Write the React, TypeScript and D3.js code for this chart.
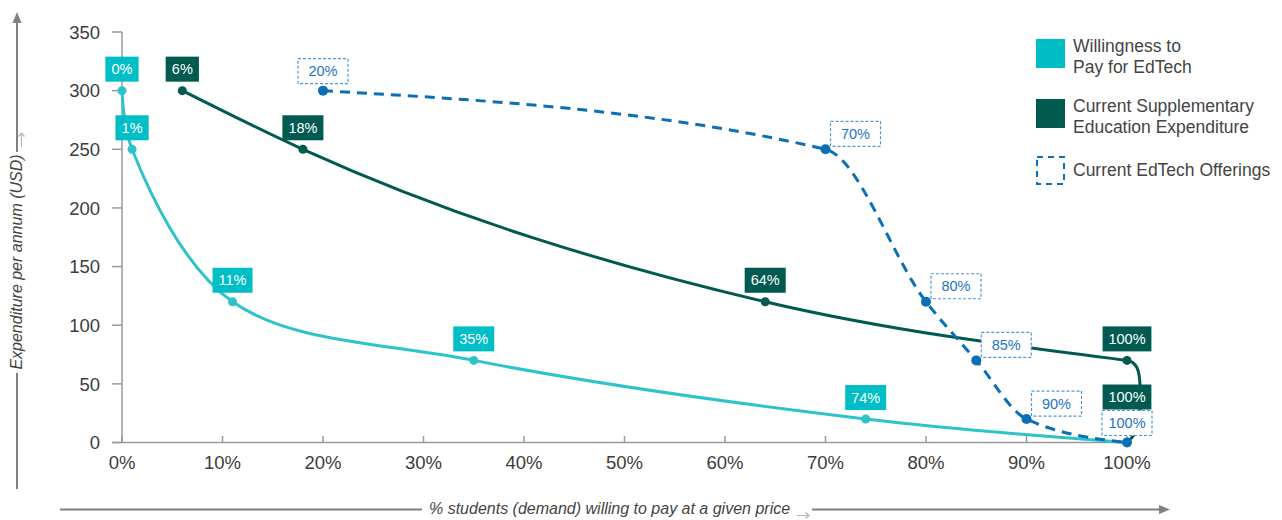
import React, { useEffect } from "react";
import * as d3 from "d3";

// ---- Data ----
const xTicks = [0, 10, 20, 30, 40, 50, 60, 70, 80, 90, 100];
const yTicks = [0, 50, 100, 150, 200, 250, 300, 350];

const wtpX = [0, 1, 11, 35, 74, 100];
const wtpY = [300, 250, 120, 70, 20, 0];
const wtpLabels = ["0%", "1%", "11%", "35%", "74%", ""];

const supX = [6, 18, 64, 100, 100];
const supY = [300, 250, 120, 70, 0];
const supLabels = ["6%", "18%", "64%", "100%", "100%"];

const edX = [20, 70, 80, 85, 90, 100];
const edY = [300, 250, 120, 70, 20, 0];
const edLabels = ["20%", "70%", "80%", "85%", "90%", "100%"];

const legendItems = [
  { lines: ["Willingness to", "Pay for EdTech"], kind: "teal" },
  { lines: ["Current Supplementary", "Education Expenditure"], kind: "dark" },
  { lines: ["Current EdTech Offerings"], kind: "blue" },
];

const xAxisTitle = "% students (demand) willing to pay at a given price";
const yAxisTitle = "Expenditure per annum (USD)";

// ---- Styles ----
const W = 1282;
const H = 520;
const TEAL = "#00bec5";
const TEAL_LINE = "#2ec3c8";
const DARK = "#005a50";
const BLUE = "#0a6fb6";
const BLUE_BORDER = "#4b98d6";
const BLUE_TEXT = "#1c76bf";
const AXIS = "#9a9a9a";
const TEXT = "#3c3c3c";
const FONT = "'Liberation Sans', Arial, Helvetica, sans-serif";

const x = d3.scaleLinear().domain([0, 100]).range([122, 1127]);
const y = d3.scaleLinear().domain([0, 350]).range([442.5, 32]);

const makeLine = (curve: d3.CurveFactory) =>
  d3
    .line<[number, number]>()
    .x((d) => x(d[0]))
    .y((d) => y(d[1]))
    .curve(curve);

const catmull = makeLine(d3.curveCatmullRom.alpha(0.5));
const monotone = makeLine(d3.curveMonotoneX);

function textWidth(s: string, size: number) {
  if (typeof document === "undefined") return s.length * size * 0.6;
  const c = document.createElement("canvas").getContext("2d");
  if (!c) return s.length * size * 0.6;
  c.font = `${size}px 'Liberation Sans', Arial, sans-serif`;
  return c.measureText(s).width;
}

type Box = { x: number; y: number; w: number; h: number; text: string; kind: string };

function overlaps(a: Box, b: Box) {
  return a.x < b.x + b.w && a.x + a.w > b.x && a.y < b.y + b.h && a.y + a.h > b.y;
}

export default function App() {
  useEffect(() => {
    document.body.style.margin = "0";
  }, []);

  const wtp = wtpX.map((v, i) => [v, wtpY[i]] as [number, number]);
  const sup = supX.map((v, i) => [v, supY[i]] as [number, number]);
  const ed = edX.map((v, i) => [v, edY[i]] as [number, number]);

  // Supplementary: monotone along the demand axis, then a rounded drop at 100%
  const supMain = sup.slice(0, -1);
  const pA = supMain[supMain.length - 1];
  const pB = sup[sup.length - 1];
  const ax = x(pA[0]);
  const ay = y(pA[1]);
  const bx = x(pB[0]);
  const by = y(pB[1]);
  const supDrop = `M${ax},${ay} C${ax + 9},${ay + 1.5} ${ax + 13},${ay + 8} ${ax + 13},${ay + 28} L${ax + 13},${by - 30} C${ax + 13},${by - 10} ${bx + 4},${by - 4} ${bx},${by}`;

  const BH = 25;
  const boxes: Box[] = [];
  ed.forEach((p, i) => {
    const t = edLabels[i];
    if (!t) return;
    const px = x(p[0]);
    const py = y(p[1]);
    const w = 50;
    let b: Box;
    if (i === 0 || i === ed.length - 1) {
      b = { x: px - w / 2, y: py - 7 - BH, w, h: BH, text: t, kind: "blue" };
    } else {
      b = { x: px + 5, y: py - 3 - BH, w, h: BH, text: t, kind: "blue" };
    }
    boxes.push(b);
  });
  const solid = (pts: [number, number][], labels: string[], kind: string) => {
    pts.forEach((p, i) => {
      const t = labels[i];
      if (!t) return;
      const px = x(p[0]);
      const py = y(p[1]);
      const w = textWidth(t, 14) + 13;
      const b: Box = { x: px - w / 2, y: py - 9 - BH, w, h: BH, text: t, kind };
      let guard = 0;
      let hit = boxes.find((o) => overlaps(o, b));
      while (hit && guard < 5) {
        b.y = hit.y - BH - 1;
        hit = boxes.find((o) => overlaps(o, b));
        guard++;
      }
      boxes.push(b);
    });
  };
  solid(sup, supLabels, "dark");
  solid(wtp, wtpLabels, "teal");

  const legendX = 1036;
  const legendTops = [39, 99, 156];

  return (
    <svg
      width={W}
      height={H}
      viewBox={`0 0 ${W} ${H}`}
      style={{ display: "block", position: "absolute", left: 0, top: 0, background: "#fff" }}
      fontFamily={FONT}
    >
      {/* Outer axis arrows */}
      <g stroke="#808080" strokeWidth={2} fill="none">
        <line x1={17} y1={22} x2={17} y2={152} />
        <line x1={17} y1={373} x2={17} y2={489} />
        <line x1={60} y1={509.5} x2={422} y2={509.5} />
        <line x1={812} y1={509.5} x2={1161} y2={509.5} />
      </g>
      <polygon points="17,12 12.5,23 21.5,23" fill="#808080" />
      <polygon points="1170,509.5 1159,505 1159,514" fill="#808080" />
      <g stroke="#b5b5b5" strokeWidth={1.2} fill="none">
        <path d="M21.5,147 L21.5,133 M18.5,136.5 L21.5,133 L24.5,136.5" />
        <path d="M797,515.5 L809,515.5 M805.5,512.5 L809,515.5 L805.5,518.5" />
      </g>
      <text
        transform="translate(22,262) rotate(-90)"
        textAnchor="middle"
        fontSize={16}
        fontStyle="italic"
        fill="#444"
      >
        {yAxisTitle}
      </text>
      <text x={429} y={514} fontSize={16} fontStyle="italic" fill="#444">
        {xAxisTitle}
      </text>

      {/* Plot axes */}
      <g stroke={AXIS} strokeWidth={1.5}>
        <line x1={x(0)} y1={y(350)} x2={x(0)} y2={y(0)} />
        <line x1={112} y1={y(0)} x2={x(100)} y2={y(0)} />
        {yTicks.map((t) => (
          <line key={"yt" + t} x1={112} x2={x(0)} y1={y(t)} y2={y(t)} />
        ))}
        {xTicks.map((t) => (
          <line key={"xt" + t} x1={x(t)} x2={x(t)} y1={y(0) - 6.5} y2={y(0)} />
        ))}
      </g>
      {yTicks.map((t) => (
        <text key={"yl" + t} x={100} y={y(t)} dy="0.36em" textAnchor="end" fontSize={18.5} fill={TEXT}>
          {t}
        </text>
      ))}
      {xTicks.map((t) => (
        <text key={"xl" + t} x={x(t)} y={469} textAnchor="middle" fontSize={18.5} fill={TEXT}>
          {t + "%"}
        </text>
      ))}

      {/* Lines */}
      <path d={catmull(wtp) || ""} fill="none" stroke={TEAL_LINE} strokeWidth={3} />
      <path d={monotone(supMain) || ""} fill="none" stroke={DARK} strokeWidth={3} />
      <path d={supDrop} fill="none" stroke={DARK} strokeWidth={3} />
      <path d={monotone(ed) || ""} fill="none" stroke={BLUE} strokeWidth={3} strokeDasharray="10,7" />

      {/* Markers */}
      {wtp.slice(0, -1).map((p, i) => (
        <circle key={"wm" + i} cx={x(p[0])} cy={y(p[1])} r={4.5} fill={TEAL_LINE} />
      ))}
      {supMain.map((p, i) => (
        <circle key={"sm" + i} cx={x(p[0])} cy={y(p[1])} r={4.5} fill={DARK} />
      ))}
      {ed.map((p, i) => (
        <circle key={"em" + i} cx={x(p[0])} cy={y(p[1])} r={5} fill={BLUE} />
      ))}

      {/* Labels */}
      {boxes.map((b, i) => (
        <g key={"lb" + i}>
          <rect
            x={b.x}
            y={b.y}
            width={b.w}
            height={b.h}
            fill={b.kind === "blue" ? "#fff" : b.kind === "dark" ? DARK : TEAL}
            stroke={b.kind === "blue" ? BLUE_BORDER : "none"}
            strokeWidth={b.kind === "blue" ? 1.2 : 0}
            strokeDasharray={b.kind === "blue" ? "3,2" : undefined}
          />
          <text
            x={b.x + b.w / 2}
            y={b.y + b.h / 2}
            dy="0.36em"
            textAnchor="middle"
            fontSize={14.5}
            fill={b.kind === "blue" ? BLUE_TEXT : "#fff"}
          >
            {b.text}
          </text>
        </g>
      ))}

      {/* Legend */}
      {legendItems.map((it, i) => (
        <g key={"lg" + i}>
          {it.kind === "blue" ? (
            <rect
              x={legendX + 1}
              y={legendTops[i] + 1}
              width={27}
              height={27}
              fill="none"
              stroke={BLUE}
              strokeWidth={2}
              strokeDasharray="6,5"
            />
          ) : (
            <rect
              x={legendX}
              y={legendTops[i]}
              width={29}
              height={29}
              fill={it.kind === "teal" ? TEAL : DARK}
            />
          )}
          {it.lines.map((l, j) => (
            <text
              key={j}
              x={1073}
              y={legendTops[i] + (it.lines.length === 1 ? 20 : 13) + j * 20.5}
              fontSize={17.5}
              fill="#444"
            >
              {l}
            </text>
          ))}
        </g>
      ))}
    </svg>
  );
}
